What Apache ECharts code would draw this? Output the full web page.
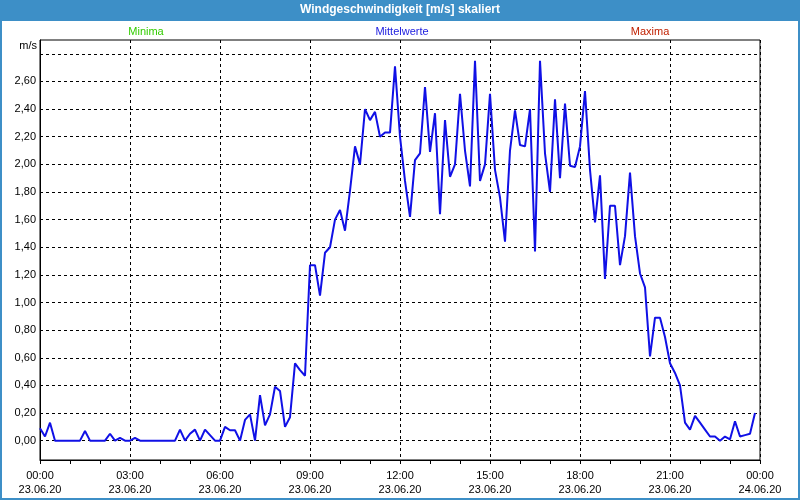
<!DOCTYPE html>
<html>
<head>
<meta charset="utf-8">
<script src="https://cdn.jsdelivr.net/npm/echarts@6/dist/echarts.min.js"></script>
<style>
html,body{margin:0;padding:0;background:#fff;}
#c{width:800px;height:500px;}
</style>
</head>
<body>
<div id="c"></div>
<script>
// Chart data (10-minute means, 23.06.20 00:00 .. 23:50)
const titleText = 'Windgeschwindigkeit [m/s] skaliert';
const legendLabels = ['Minima', 'Mittelwerte', 'Maxima'];
const stepMinutes = 10;
const values = [
  0.09, 0.03, 0.13, 0, 0, 0, 0, 0, 0, 0.07, 0, 0,
  0, 0, 0.05, 0, 0.02, 0, 0, 0.02, 0, 0, 0, 0,
  0, 0, 0, 0, 0.08, 0, 0.05, 0.08, 0, 0.08, 0.04, 0,
  0, 0.10, 0.075, 0.075, 0, 0.15, 0.19, 0, 0.33, 0.11, 0.19, 0.39,
  0.36, 0.10, 0.17, 0.56, 0.51, 0.47, 1.27, 1.27, 1.05, 1.36, 1.40, 1.60,
  1.67, 1.52, 1.81, 2.13, 2.00, 2.40, 2.32, 2.38, 2.20, 2.23, 2.23, 2.71,
  2.20, 1.88, 1.62, 2.03, 2.08, 2.56, 2.09, 2.37, 1.64, 2.32, 1.91, 2.00,
  2.51, 2.10, 1.84, 2.75, 1.88, 2.00, 2.51, 1.96, 1.76, 1.44, 2.10, 2.39,
  2.14, 2.13, 2.40, 1.37, 2.75, 2.08, 1.80, 2.47, 1.90, 2.44, 1.99, 1.98,
  2.13, 2.53, 1.96, 1.58, 1.92, 1.17, 1.70, 1.70, 1.27, 1.48, 1.94, 1.48,
  1.21, 1.11, 0.61, 0.89, 0.89, 0.75, 0.56, 0.49, 0.40, 0.13, 0.08, 0.18,
  0.13, 0.08, 0.03, 0.03, 0, 0.03, 0.01, 0.14, 0.03, 0.04, 0.05, 0.20
];
const xTickLabels = [
  '00:00\n23.06.20', '03:00\n23.06.20', '06:00\n23.06.20', '09:00\n23.06.20',
  '12:00\n23.06.20', '15:00\n23.06.20', '18:00\n23.06.20', '21:00\n23.06.20',
  '00:00\n24.06.20'
];
const yTickValues = [0, 0.2, 0.4, 0.6, 0.8, 1.0, 1.2, 1.4, 1.6, 1.8, 2.0, 2.2, 2.4, 2.6];
const yGridValues = [0, 0.2, 0.4, 0.6, 0.8, 1.0, 1.2, 1.4, 1.6, 1.8, 2.0, 2.2, 2.4, 2.6, 2.8];
const yUnit = 'm/s';

const seriesData = values.map((v, i) => [i * stepMinutes / 60, v]);

const FONT = 'Liberation Sans';
const chart = echarts.init(document.getElementById('c'), null, {renderer: 'canvas'});
chart.setOption({
  animation: false,
  backgroundColor: '#ffffff',
  grid: {left: 40, right: 40, top: 40, bottom: 40, show: true, borderColor: '#000', borderWidth: 1, backgroundColor: 'transparent'},
  xAxis: {
    type: 'value', min: 0, max: 24, interval: 3,
    axisLine: {show: true, onZero: false, lineStyle: {color: '#000', width: 1}},
    axisTick: {show: true, length: 4, lineStyle: {color: '#000'}},
    minorTick: {show: true, splitNumber: 3, length: 4, lineStyle: {color: '#000'}},
    splitLine: {show: true, lineStyle: {color: '#000', type: [3, 3], width: 1}},
    axisLabel: {
      color: '#000', fontFamily: FONT, fontSize: 11, lineHeight: 14, margin: 9,
      formatter: function (v) { const k = Math.round(v / 3); return xTickLabels[k] || ''; }
    }
  },
  yAxis: {
    type: 'value', min: -0.14, max: 2.9,
    axisLine: {show: true, lineStyle: {color: '#000', width: 1}},
    axisTick: {show: false},
    splitLine: {show: false},
    axisLabel: {
      color: '#000', fontFamily: FONT, fontSize: 11, margin: 4,
      customValues: yTickValues,
      formatter: function (v) { return v.toFixed(2).replace('.', ','); }
    }
  },
  series: [{
    type: 'line', data: seriesData, showSymbol: false, symbol: 'none',
    lineStyle: {color: '#1010e6', width: 2}, itemStyle: {color: '#1010e6'}, z: 5,
    markLine: {
      silent: true, symbol: 'none', animation: false, z: 1,
      label: {show: false},
      lineStyle: {color: '#000', type: [3, 3], width: 1},
      emphasis: {disabled: true},
      data: yGridValues.map(v => ({yAxis: v}))
    }
  }],
  graphic: [
    {type: 'rect', shape: {x: 0, y: 0, width: 800, height: 21}, style: {fill: '#3d8fc7'}, z: 100},
    {type: 'rect', shape: {x: 1, y: 1, width: 798, height: 498}, style: {fill: 'none', stroke: '#3d8fc7', lineWidth: 2}, z: 100},
    {type: 'text', x: 400, y: 10, style: {text: titleText, fill: '#fff', font: 'bold 12px ' + FONT, textAlign: 'center', textVerticalAlign: 'middle'}, z: 101},
    {type: 'text', x: 146, y: 32, style: {text: legendLabels[0], fill: '#33cc00', font: '11px ' + FONT, textAlign: 'center', textVerticalAlign: 'middle'}, z: 101},
    {type: 'text', x: 402, y: 32, style: {text: legendLabels[1], fill: '#2020e0', font: '11px ' + FONT, textAlign: 'center', textVerticalAlign: 'middle'}, z: 101},
    {type: 'text', x: 650, y: 32, style: {text: legendLabels[2], fill: '#c02000', font: '11px ' + FONT, textAlign: 'center', textVerticalAlign: 'middle'}, z: 101},
    {type: 'text', x: 37, y: 46, style: {text: yUnit, fill: '#000', font: '11px ' + FONT, textAlign: 'right', textVerticalAlign: 'middle'}, z: 101}
  ]
});
</script>
</body>
</html>
